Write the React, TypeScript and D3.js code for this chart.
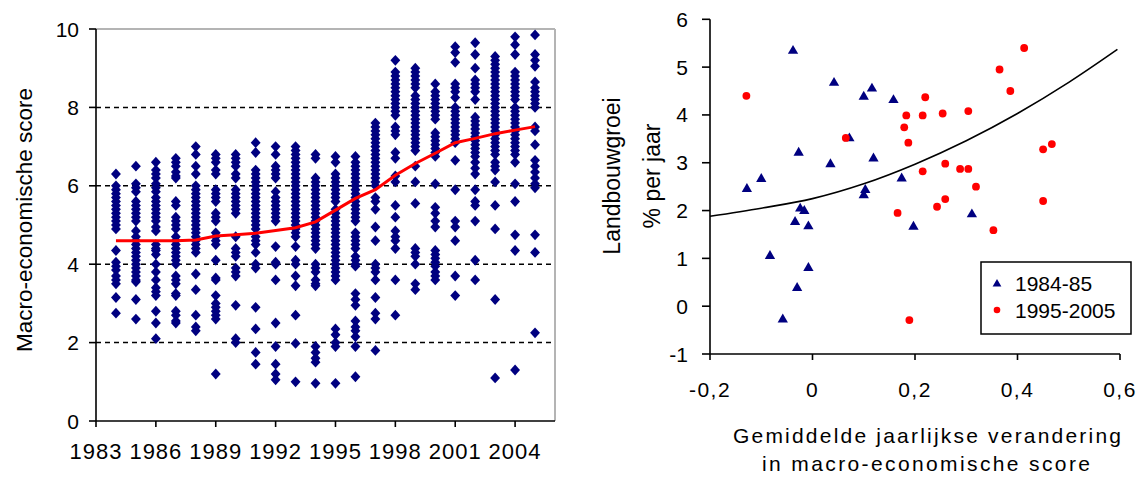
import React from 'react';
import * as d3 from 'd3';

// ---------- Left chart data ----------
const years = [1984, 1985, 1986, 1987, 1988, 1989, 1990, 1991, 1992, 1993, 1994, 1995, 1996, 1997, 1998, 1999, 2000, 2001, 2002, 2003, 2004, 2005];

const s1984 = [6.3, 6.0, 5.9, 5.8, 5.7, 5.6, 5.5, 5.4, 5.3, 5.2, 5.1, 5.0, 4.9, 4.35, 4.05, 3.95, 3.85, 3.7, 3.6, 3.5, 3.15, 2.75];
const s1985 = [6.5, 6.05, 5.95, 5.85, 5.6, 5.5, 5.4, 5.3, 5.2, 5.1, 4.85, 4.7, 4.6, 4.5, 4.4, 4.3, 4.2, 4.1, 4.0, 3.9, 3.8, 3.7, 3.6, 3.55, 3.1, 2.6];
const s1986 = [6.6, 6.4, 6.3, 6.2, 6.05, 5.95, 5.85, 5.7, 5.6, 5.5, 5.4, 5.3, 5.2, 5.1, 4.95, 4.85, 4.5, 4.4, 4.35, 4.25, 4.0, 3.8, 3.6, 3.4, 3.3, 3.2, 2.8, 2.5, 2.1];
const s1987 = [6.7, 6.6, 6.5, 6.35, 6.25, 6.2, 5.6, 5.5, 5.2, 5.1, 5.0, 4.9, 4.7, 4.6, 4.5, 4.4, 4.3, 4.2, 4.1, 4.0, 3.7, 3.6, 3.5, 3.25, 3.2, 2.8, 2.7, 2.55, 2.5];
const s1988 = [7.0, 6.8, 6.5, 6.3, 6.0, 5.9, 5.8, 5.7, 5.6, 5.5, 5.4, 5.3, 5.2, 5.1, 5.0, 4.9, 4.8, 4.7, 4.6, 4.5, 4.4, 4.3, 3.75, 3.35, 2.7, 2.4, 2.3];
const s1989 = [6.8, 6.7, 6.6, 6.4, 6.3, 5.9, 5.8, 5.7, 5.6, 5.3, 5.2, 5.1, 4.8, 4.7, 4.6, 4.5, 4.1, 3.65, 3.6, 3.2, 3.0, 2.9, 2.8, 2.7, 2.6, 1.2];
const s1990 = [6.8, 6.7, 6.6, 6.5, 6.3, 6.2, 5.9, 5.8, 5.7, 5.6, 5.5, 5.4, 5.3, 4.7, 4.4, 4.3, 4.2, 3.9, 3.8, 3.7, 2.95, 2.1, 2.0];
const s1991 = [7.1, 6.85, 6.4, 6.3, 6.2, 6.1, 6.0, 5.9, 5.8, 5.7, 5.6, 5.5, 5.4, 5.3, 5.2, 5.1, 5.0, 4.9, 4.7, 4.6, 4.5, 4.3, 4.0, 3.9, 2.9, 2.35, 1.75, 1.45];
const s1992 = [7.0, 6.8, 6.5, 6.4, 6.3, 6.2, 5.85, 5.7, 5.6, 5.5, 5.4, 5.3, 5.2, 5.1, 4.45, 4.05, 4.0, 3.6, 2.5, 1.9, 1.45, 1.2, 1.05];
const s1993 = [7.0, 6.9, 6.8, 6.7, 6.6, 6.5, 6.4, 6.3, 6.2, 6.1, 6.0, 5.9, 5.8, 5.7, 5.6, 5.5, 5.4, 5.3, 5.2, 5.1, 5.0, 4.9, 4.8, 4.7, 4.45, 4.1, 4.0, 3.7, 3.45, 2.7, 1.98, 1.0];
const s1994 = [6.8, 6.7, 6.2, 6.1, 6.0, 5.9, 5.8, 5.7, 5.6, 5.5, 5.4, 5.3, 5.2, 5.1, 5.0, 4.9, 4.8, 4.7, 4.6, 4.5, 4.4, 4.0, 3.9, 3.8, 3.6, 3.5, 3.45, 1.9, 1.75, 1.6, 1.5, 0.96];
const s1995 = [6.75, 6.6, 6.3, 6.2, 6.1, 6.0, 5.9, 5.8, 5.7, 5.6, 5.4, 5.3, 5.2, 5.1, 5.0, 4.9, 4.8, 4.7, 4.6, 4.5, 4.4, 4.3, 4.2, 4.1, 4.0, 3.9, 3.8, 3.7, 3.6, 2.35, 2.2, 2.0, 1.9, 0.96];
const s1996 = [6.75, 6.6, 6.5, 6.4, 6.3, 6.2, 6.1, 6.0, 5.9, 5.8, 5.7, 5.6, 5.5, 5.4, 5.3, 5.2, 5.1, 4.8, 4.7, 4.6, 4.5, 4.4, 4.2, 4.1, 4.0, 3.95, 3.25, 3.1, 2.95, 2.55, 2.4, 2.3, 2.15, 1.9, 1.13];
const s1997 = [7.6, 7.5, 7.4, 7.3, 7.2, 7.1, 7.0, 6.9, 6.8, 6.7, 6.6, 6.5, 6.4, 6.3, 6.2, 6.1, 6.0, 5.7, 5.6, 5.4, 4.95, 4.6, 4.0, 3.9, 3.8, 3.6, 3.15, 2.75, 2.6, 1.8];
const s1998 = [9.2, 8.9, 8.8, 8.7, 8.6, 8.5, 8.4, 8.3, 8.2, 8.1, 8.0, 7.9, 7.8, 7.5, 7.4, 7.3, 6.85, 6.7, 6.25, 6.1, 5.5, 5.2, 4.85, 4.7, 4.6, 4.4, 3.6, 2.7];
const s1999 = [9.0, 8.9, 8.8, 8.7, 8.6, 8.5, 8.3, 8.2, 8.1, 8.0, 7.9, 7.8, 7.7, 7.6, 7.5, 7.4, 7.3, 7.2, 7.1, 7.0, 6.9, 6.5, 6.1, 5.55, 4.4, 4.3, 4.2, 4.0, 3.5, 3.35];
const s2000 = [8.6, 8.4, 8.3, 8.2, 8.1, 8.0, 7.9, 7.8, 7.7, 7.35, 7.25, 7.15, 7.05, 6.95, 6.85, 6.75, 6.05, 5.45, 5.3, 5.1, 4.95, 4.35, 4.25, 4.15, 4.05, 3.95, 3.8, 3.7, 3.6];
const s2001 = [9.55, 9.4, 9.15, 8.6, 8.5, 8.4, 8.25, 8.0, 7.9, 7.8, 7.7, 7.6, 7.5, 7.4, 7.3, 7.2, 7.1, 6.65, 5.9, 5.1, 4.95, 4.6, 3.7, 3.2];
const s2002 = [9.65, 9.35, 9.0, 8.7, 8.6, 8.5, 8.4, 8.2, 7.75, 7.65, 7.55, 7.45, 7.35, 7.25, 7.15, 7.05, 6.95, 6.85, 6.75, 6.6, 6.45, 6.3, 5.9, 5.6, 5.5, 5.1, 4.1, 3.6];
const s2003 = [9.3, 9.2, 9.1, 9.0, 8.9, 8.8, 8.7, 8.6, 8.5, 8.4, 8.3, 8.2, 8.1, 8.0, 7.9, 7.8, 7.7, 7.6, 7.5, 7.4, 7.3, 7.2, 7.1, 7.0, 6.9, 6.8, 6.6, 6.5, 6.4, 6.1, 5.5, 4.9, 3.1, 1.1];
const s2004 = [9.8, 9.6, 9.35, 8.9, 8.8, 8.7, 8.6, 8.5, 8.4, 8.3, 8.2, 8.0, 7.9, 7.8, 7.7, 7.6, 7.5, 7.4, 7.3, 7.2, 7.1, 7.0, 6.9, 6.8, 6.6, 6.05, 5.6, 4.75, 4.35, 1.3];
const s2005 = [9.85, 9.35, 9.2, 9.05, 8.65, 8.5, 8.4, 8.3, 8.2, 8.1, 8.0, 7.5, 7.4, 7.05, 6.65, 6.5, 6.35, 6.2, 6.05, 5.95, 4.75, 4.3, 2.25];

const scoresPerYear = [s1984, s1985, s1986, s1987, s1988, s1989, s1990, s1991, s1992, s1993, s1994, s1995, s1996, s1997, s1998, s1999, s2000, s2001, s2002, s2003, s2004, s2005];

const trendValues = [4.6, 4.6, 4.6, 4.6, 4.62, 4.72, 4.75, 4.79, 4.86, 4.93, 5.08, 5.38, 5.68, 5.9, 6.27, 6.57, 6.83, 7.1, 7.21, 7.33, 7.42, 7.51];

const leftYTicks = [0, 2, 4, 6, 8, 10];
const leftGrid = [2, 4, 6, 8];
const leftXTicks = [1983, 1986, 1989, 1992, 1995, 1998, 2001, 2004];

// ---------- Right chart data ----------
const triX = [-0.128, -0.1, -0.083, -0.058, -0.038, -0.034, -0.03, -0.027, -0.024, -0.016, -0.008, -0.008, 0.035, 0.042, 0.072, 0.1, 0.1, 0.103, 0.116, 0.119, 0.158, 0.174, 0.197, 0.311];
const triY = [2.45, 2.66, 1.05, -0.28, 5.34, 1.76, 0.38, 3.21, 2.04, 1.99, 1.67, 0.8, 2.97, 4.67, 3.51, 4.38, 2.32, 2.43, 4.55, 3.09, 4.31, 2.67, 1.66, 1.92];

const dotX = [-0.129, 0.065, 0.166, 0.179, 0.183, 0.187, 0.189, 0.215, 0.215, 0.22, 0.243, 0.254, 0.259, 0.259, 0.288, 0.304, 0.304, 0.319, 0.353, 0.365, 0.386, 0.413, 0.45, 0.467, 0.45];
const dotY = [4.4, 3.52, 1.95, 3.74, 3.99, 3.42, -0.29, 3.99, 2.82, 4.37, 2.08, 4.03, 2.98, 2.24, 2.87, 4.08, 2.87, 2.5, 1.59, 4.95, 4.5, 5.4, 3.28, 3.39, 2.2];

const curveX = [-0.2, -0.1, 0, 0.1, 0.2, 0.3, 0.4, 0.5, 0.595];
const curveY = [1.88, 2.05, 2.25, 2.56, 2.97, 3.46, 4.03, 4.68, 5.37];

const rightYTicks = [-1, 0, 1, 2, 3, 4, 5, 6];
const rightXTicks = [-0.2, 0, 0.2, 0.4, 0.6];
const rightXLabels = ['-0,2', '0', '0,2', '0,4', '0,6'];

const FONT = 'Liberation Sans, Arial, sans-serif';
const NAVY = '#000080';

export default function App() {
  const xL = d3.scaleLinear().domain([1983, 2006]).range([96, 555]);
  const yL = d3.scaleLinear().domain([0, 10]).range([421, 29]);

  const xR = d3.scaleLinear().domain([-0.2, 0.6]).range([710, 1120]);
  const yR = d3.scaleLinear().domain([-1, 6]).range([354, 19.3]);

  const diamond = d3.symbol().type(d3.symbolDiamond2).size(62)() as string;
  const triangle = d3.symbol().type(d3.symbolTriangle).size(46)() as string;

  const trendLine = d3
    .line<number>()
    .x((_, i) => xL(years[i]))
    .y((d) => yL(d))(trendValues) as string;

  const fitLine = d3
    .line<number>()
    .x((_, i) => xR(curveX[i]))
    .y((d) => yR(d))
    .curve(d3.curveMonotoneX)(curveY) as string;

  const pts: { x: number; y: number }[] = [];
  scoresPerYear.forEach((arr, i) => arr.forEach((v) => pts.push({ x: xL(years[i]), y: yL(v) })));

  return (
    <svg
      width={1144}
      height={480}
      style={{ position: 'absolute', left: 0, top: 0, background: '#fff' }}
      fontFamily={FONT}
    >
      <rect x={0} y={0} width={1144} height={480} fill="#fff" />
      {/* ---------- LEFT CHART ---------- */}
      <g>
        <line x1={xL(1983)} x2={xL(2006)} y1={yL(10)} y2={yL(10)} stroke="#b4b4b4" strokeWidth={2} />
        <line x1={xL(2006)} x2={xL(2006)} y1={yL(10)} y2={yL(0)} stroke="#b4b4b4" strokeWidth={2} />
        {leftGrid.map((g) => (
          <line key={g} x1={xL(1983)} x2={xL(2006)} y1={yL(g)} y2={yL(g)} stroke="#000" strokeWidth={1.5} strokeDasharray="5,4" />
        ))}
        {pts.map((p, i) => (
          <path key={i} d={diamond} transform={`translate(${p.x},${p.y}) scale(1,1.1)`} fill={NAVY} />
        ))}
        <path d={trendLine} fill="none" stroke="#ff0000" strokeWidth={3} />
        <line x1={xL(1983)} x2={xL(1983)} y1={yL(10)} y2={yL(0)} stroke="#000" strokeWidth={1.6} />
        <line x1={xL(1983)} x2={xL(2006)} y1={yL(0)} y2={yL(0)} stroke="#000" strokeWidth={1.6} />
        {leftYTicks.map((t) => (
          <g key={t}>
            <line x1={xL(1983) - 7} x2={xL(1983)} y1={yL(t)} y2={yL(t)} stroke="#000" strokeWidth={1.6} />
            <text x={79} y={yL(t)} dy="0.36em" textAnchor="end" fontSize={21} fill="#000">
              {t}
            </text>
          </g>
        ))}
        {leftXTicks.map((t) => (
          <g key={t}>
            <line x1={xL(t)} x2={xL(t)} y1={yL(0)} y2={yL(0) + 6} stroke="#000" strokeWidth={1.6} />
            <text x={xL(t)} y={459} textAnchor="middle" fontSize={22} letterSpacing={1} fill="#000">
              {t}
            </text>
          </g>
        ))}
        <text transform={`translate(32,220) rotate(-90)`} textAnchor="middle" fontSize={22.5} fill="#000">
          Macro-economische score
        </text>
      </g>

      {/* ---------- RIGHT CHART ---------- */}
      <g>
        <path d={fitLine} fill="none" stroke="#000" strokeWidth={1.6} />
        {triX.map((x, i) => (
          <path key={'t' + i} d={triangle} transform={`translate(${xR(x)},${yR(triY[i])})`} fill={NAVY} />
        ))}
        {dotX.map((x, i) => (
          <circle key={'d' + i} cx={xR(x)} cy={yR(dotY[i])} r={3.9} fill="#ff0000" />
        ))}
        <line x1={xR(-0.2)} x2={xR(-0.2)} y1={yR(6)} y2={yR(-1)} stroke="#000" strokeWidth={1.6} />
        <line x1={xR(-0.2)} x2={xR(0.6)} y1={yR(-1)} y2={yR(-1)} stroke="#000" strokeWidth={1.6} />
        {rightYTicks.map((t) => (
          <g key={t}>
            <line x1={xR(-0.2) - 8} x2={xR(-0.2)} y1={yR(t)} y2={yR(t)} stroke="#000" strokeWidth={1.6} />
            <text x={688} y={yR(t)} dy="0.36em" textAnchor="end" fontSize={21} fill="#000">
              {t}
            </text>
          </g>
        ))}
        {rightXTicks.map((t, i) => (
          <g key={t}>
            <line x1={xR(t)} x2={xR(t)} y1={yR(-1)} y2={yR(-1) + 6} stroke="#000" strokeWidth={1.6} />
            <text x={xR(t)} y={397} textAnchor="middle" fontSize={21} letterSpacing={1.5} fill="#000">
              {rightXLabels[i]}
            </text>
          </g>
        ))}
        <text transform={`translate(620,176) rotate(-90)`} textAnchor="middle" fontSize={23} fill="#000">
          Landbouwgroei
        </text>
        <text transform={`translate(660,176) rotate(-90)`} textAnchor="middle" fontSize={23} fill="#000">
          % per jaar
        </text>
        <text x={927} y={443} textAnchor="middle" fontSize={21} textLength={388} lengthAdjust="spacing" fill="#000">
          Gemiddelde jaarlijkse verandering
        </text>
        <text x={926} y={471} textAnchor="middle" fontSize={21} textLength={328} lengthAdjust="spacing" fill="#000">
          in macro-economische score
        </text>
        <rect x={981} y={262} width={150} height={72} fill="#fff" stroke="#000" strokeWidth={1.5} />
        <path d={triangle} transform={`translate(997,284) scale(0.85)`} fill={NAVY} />
        <text x={1015} y={283} dy="0.36em" fontSize={21} fill="#000">
          1984-85
        </text>
        <circle cx={997} cy={310} r={3.3} fill="#ff0000" />
        <text x={1015} y={310} dy="0.36em" fontSize={21} fill="#000">
          1995-2005
        </text>
      </g>
    </svg>
  );
}
